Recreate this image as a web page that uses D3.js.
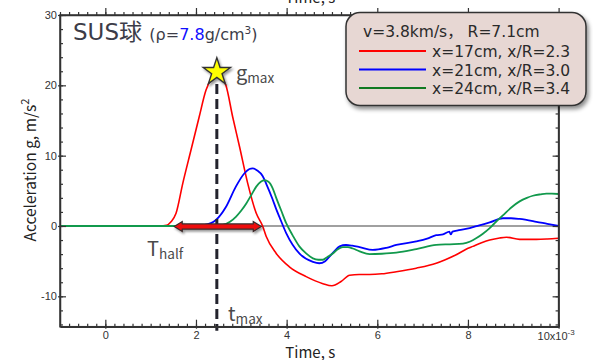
<!DOCTYPE html>
<html><head><meta charset="utf-8">
<script src="https://cdn.jsdelivr.net/npm/d3@7"></script>
<style>
html,body{margin:0;padding:0;background:#fff;}
svg{display:block;}
</style></head>
<body>
<svg id="c" width="593" height="360"></svg>
<script>
// ---- data (time in ms i.e. x10^-3 s, acceleration in g) ----
const redT = [-1,1.2,1.35,1.45,1.56,1.71,1.89,2.07,2.22,2.35,2.45,2.55,2.66,2.81,2.96,3.14,3.33,3.47,3.55,3.77,4.06,4.43,4.80,5.0,5.2,5.39,5.6,5.83,6.1,6.42,6.86,7.3,7.5,7.74,7.96,8.11,8.3,8.48,8.7,8.85,9.14,9.51,9.75,10];
const redG = [0,0,0.1,0.6,1.8,6.1,10.8,15.5,19.3,21.0,21.5,21.2,20.0,15.5,11.3,6.1,1.8,0,-1.5,-3.9,-5.8,-7.2,-8.2,-8.5,-7.9,-7.0,-6.9,-6.9,-6.8,-6.5,-6.0,-5.3,-4.8,-4.1,-3.3,-2.9,-2.4,-2.0,-1.7,-1.6,-1.9,-1.9,-1.85,-1.75];
const blueT = [-1,1.8,2.0,2.19,2.44,2.66,2.88,3.07,3.18,3.25,3.35,3.47,3.55,3.69,3.77,3.84,3.99,4.28,4.58,4.72,4.85,4.94,5.05,5.17,5.31,5.45,5.61,5.9,6.2,6.42,6.86,7.1,7.3,7.45,7.59,7.62,7.66,7.8,8.04,8.25,8.48,8.77,8.95,9.14,9.51,9.75,10];
const blueG = [0,0,0.05,0.15,0.85,2.7,5.6,7.5,8.1,8.2,7.9,7.1,6.0,3.8,2.4,1.3,-1.0,-3.9,-5.1,-5.3,-5.0,-4.4,-3.6,-2.9,-2.7,-2.8,-3.0,-3.4,-3.1,-2.7,-2.2,-1.8,-1.3,-1.2,-0.8,-1.2,-0.8,-0.6,-0.3,0.1,0.5,1.1,1.1,1.0,0.6,0.3,0.0];
const greenT = [-1,2.3,2.45,2.59,2.75,2.88,3.0,3.11,3.22,3.33,3.43,3.51,3.6,3.69,3.77,3.88,3.99,4.13,4.28,4.43,4.58,4.7,4.80,4.9,5.02,5.13,5.24,5.35,5.46,5.61,5.83,6.1,6.42,6.86,7.3,7.6,7.89,8.05,8.18,8.33,8.48,8.62,8.77,8.95,9.14,9.3,9.43,9.6,9.73,9.85,10];
const greenG = [0,0,0.05,0.14,0.6,1.3,2.2,3.2,4.4,5.6,6.3,6.5,6.3,5.4,4.0,2.2,0.4,-1.3,-2.9,-3.9,-4.6,-4.8,-4.8,-4.4,-3.9,-3.3,-3.0,-3.0,-3.2,-3.6,-4.0,-3.95,-3.8,-3.3,-2.7,-2.6,-2.5,-2.2,-1.75,-1.1,-0.3,0.6,1.5,2.6,3.5,4.0,4.3,4.5,4.6,4.6,4.55];
const seriesNames = ["x=17cm, x/R=2.3","x=21cm, x/R=3.0","x=24cm, x/R=3.4"];
const legendTitle = "v=3.8km/s\uFF0C R=7.1cm";
const xMajorTicks = [0,2,4,6,8,10];
const yMajorTicks = [-10,0,10,20,30];
const tMax = 2.46, gMax = 21.9;
const tHalf = [1.52, 3.44];

// ---- layout ----
const svg = d3.select("#c");
const L = 60, R = 558.6, T = 15, B = 326.7;
const x = d3.scaleLinear().domain([-1,10]).range([L,R]);
const y = d3.scaleLinear().domain([-14.32,30]).range([B,T]);
const axisCol = "#333";

const defs = svg.append("defs");
const f = defs.append("filter").attr("id","sh").attr("x","-20%").attr("y","-20%").attr("width","140%").attr("height","160%");
f.append("feDropShadow").attr("dx",2).attr("dy",3).attr("stdDeviation",2).attr("flood-color","#000").attr("flood-opacity",0.45);
const f2 = defs.append("filter").attr("id","sh2").attr("x","-20%").attr("y","-50%").attr("width","140%").attr("height","200%");
f2.append("feDropShadow").attr("dx",1.5).attr("dy",2).attr("stdDeviation",1.2).attr("flood-color","#000").attr("flood-opacity",0.4);

// zero line
svg.append("line").attr("x1",L).attr("x2",R).attr("y1",y(0)).attr("y2",y(0))
  .attr("stroke","#808080").attr("stroke-width",1.6);

// curves
const line = d3.line().x(d=>x(d[0])).y(d=>y(d[1])).curve(d3.curveMonotoneX);
const mk = (ts,gs)=>ts.map((t,i)=>[t,gs[i]]);
svg.append("path").datum(mk(redT,redG)).attr("d",line).attr("fill","none").attr("stroke","#ff0000").attr("stroke-width",1.6);
svg.append("path").datum(mk(blueT,blueG)).attr("d",line).attr("fill","none").attr("stroke","#0000ff").attr("stroke-width",1.8);
svg.append("path").datum(mk(greenT,greenG)).attr("d",line).attr("fill","none").attr("stroke","#11994c").attr("stroke-width",1.8);

// dashed t_max line
svg.append("line").attr("x1",x(tMax)).attr("x2",x(tMax)).attr("y1",y(gMax)+12).attr("y2",B+4)
  .attr("stroke","#23232d").attr("stroke-width",3).attr("stroke-dasharray","10,5");

// T_half double arrow
(function(){
  const x0 = x(tHalf[0]), x1 = x(tHalf[1]), yc = y(0)+0.5;
  const hl = 8, hh = 5, sh = 2.6;
  const p = [[x0,yc],[x0+hl,yc-hh],[x0+hl,yc-sh],[x1-hl,yc-sh],[x1-hl,yc-hh],[x1,yc],[x1-hl,yc+hh],[x1-hl,yc+sh],[x0+hl,yc+sh],[x0+hl,yc+hh]];
  svg.append("path").attr("d","M"+p.map(d=>d.join(",")).join("L")+"Z")
    .attr("fill","#ee1111").attr("stroke","#3a2a2a").attr("stroke-width",1.2).attr("filter","url(#sh2)");
})();

// star
svg.append("path").attr("d",d3.symbol(d3.symbolStar,230)())
  .attr("transform",`translate(${x(tMax)},${y(gMax)})`)
  .attr("fill","#ffff00").attr("stroke","#333").attr("stroke-width",1.4).attr("filter","url(#sh2)");

// axes
function minorRange(a,b,s){const r=[];for(let v=a;v<=b+1e-9;v+=s)r.push(+v.toFixed(4));return r;}
const xMinor = minorRange(-1,10,0.2);
const yMinor = minorRange(-14,30,2);
const tickFont = "'Liberation Sans', Arial, sans-serif";

// bottom
const gB = svg.append("g").attr("transform",`translate(0,${B})`);
gB.call(d3.axisBottom(x).tickValues(xMinor).tickSize(-3).tickFormat(""));
gB.call(g=>g.select(".domain").remove());
const gB2 = svg.append("g").attr("transform",`translate(0,${B})`);
gB2.call(d3.axisBottom(x).tickValues(xMajorTicks).tickSizeInner(-7).tickSizeOuter(0).tickPadding(5).tickFormat(d=>d===10?"":String(d)));
gB2.selectAll(".tick line").attr("y2",-7).attr("y1",2);
// top
const gT = svg.append("g").attr("transform",`translate(0,${T})`);
gT.call(d3.axisTop(x).tickValues(xMinor).tickSize(3).tickFormat(""));
gT.call(g=>g.select(".domain").remove());
const gT2 = svg.append("g").attr("transform",`translate(0,${T})`);
gT2.call(d3.axisTop(x).tickValues(xMajorTicks).tickSizeInner(7).tickSizeOuter(0).tickFormat(""));
// left
const gL = svg.append("g").attr("transform",`translate(${L},0)`);
gL.call(d3.axisLeft(y).tickValues(yMinor).tickSize(-3).tickFormat(""));
gL.call(g=>g.select(".domain").remove());
const gL2 = svg.append("g").attr("transform",`translate(${L},0)`);
gL2.call(d3.axisLeft(y).tickValues(yMajorTicks).tickSizeInner(-6).tickSizeOuter(0).tickPadding(4).tickFormat(d=>String(d)));
gL2.selectAll(".tick line").attr("x2",6).attr("x1",-2);
gL2.selectAll(".tick text").attr("x",-3);
// right
const gR = svg.append("g").attr("transform",`translate(${R},0)`);
gR.call(d3.axisRight(y).tickValues(yMinor).tickSize(-3).tickFormat(""));
gR.call(g=>g.select(".domain").remove());
const gR2 = svg.append("g").attr("transform",`translate(${R},0)`);
gR2.call(d3.axisRight(y).tickValues(yMajorTicks).tickSizeInner(-6).tickSizeOuter(0).tickFormat(""));

svg.selectAll(".tick line").attr("stroke",axisCol).attr("stroke-width",1.2);
svg.selectAll(".domain").attr("stroke",axisCol).attr("stroke-width",1.5);
svg.selectAll(".tick text").attr("fill","#333").style("font-family",tickFont).style("font-size","11px");

// 10x10^-3 label
const lab = svg.append("text").attr("x",x(10)-21).attr("y",B+13.5).attr("fill","#333")
  .style("font-family",tickFont).style("font-size","11px");
lab.append("tspan").text("10x10");
lab.append("tspan").attr("dy",-5).style("font-size","8px").text("-3");

// frame
svg.append("rect").attr("x",L).attr("y",T).attr("width",R-L).attr("height",B-T)
  .attr("fill","none").attr("stroke",axisCol).attr("stroke-width",1.5);

// axis titles
const jp = "'Noto Sans CJK JP','Noto Sans',sans-serif";
const wide = "'DejaVu Sans','Noto Sans CJK JP',sans-serif";
svg.append("text").attr("x",(L+R)/2+1).attr("y",357.5).attr("text-anchor","middle")
  .attr("fill","#222").style("font-family",jp).style("font-size","15px").text("Time, s");
svg.append("text").attr("x",(L+R)/2+1).attr("y",3).attr("text-anchor","middle")
  .attr("fill","#222").style("font-family",jp).style("font-size","15px").text("Time, s");
const yl = svg.append("text").attr("transform","translate(36,170) rotate(-90)").attr("text-anchor","middle")
  .attr("fill","#222").style("font-family",jp).style("font-size","15.5px");
yl.append("tspan").text("Acceleration g, m/s");
yl.append("tspan").attr("dy",-7).style("font-size","11px").text("2");

// title
const tt = svg.append("text").attr("x",73).attr("y",40).attr("fill","#3c3c48").style("font-family",wide);
tt.append("tspan").style("font-size","23px").text("SUS球 ");
tt.append("tspan").style("font-size","16px").text("(ρ=");
tt.append("tspan").style("font-size","16px").attr("fill","#1010ff").text("7.8");
tt.append("tspan").style("font-size","16px").text("g/cm");
tt.append("tspan").style("font-size","10.5px").attr("dy",-6).text("3");
tt.append("tspan").style("font-size","16px").attr("dy",6).text(")");

// annotations
function subLabel(px,py,main,sub,size){
  const t = svg.append("text").attr("x",px).attr("y",py).attr("fill","#4a4a4a").style("font-family",jp);
  t.append("tspan").style("font-size",size+"px").text(main);
  t.append("tspan").style("font-size",(size*0.68)+"px").attr("dy",3).text(sub);
}
subLabel(236,80,"g","max",20);
subLabel(228,321,"t","max",20);
subLabel(147,256,"T","half",20);

// legend
const lg = svg.append("g");
lg.append("rect").attr("x",346).attr("y",12.5).attr("width",240).attr("height",93).attr("rx",14)
  .attr("fill","#e7d7d3").attr("stroke","#333").attr("stroke-width",1.5).attr("filter","url(#sh)");
lg.append("text").attr("x",363).attr("y",37).attr("fill","#2a2a2a").style("font-family",wide).style("font-size","15.5px").text(legendTitle);
const lcols = ["#ff0000","#0000ff","#117a22"];
seriesNames.forEach((n,i)=>{
  const yy = 51 + i*18.5;
  lg.append("line").attr("x1",359).attr("x2",426).attr("y1",yy).attr("y2",yy).attr("stroke",lcols[i]).attr("stroke-width",2.2);
  lg.append("text").attr("x",432).attr("y",yy+6).attr("fill","#2a2a2a").style("font-family",wide).style("font-size","15.5px").text(n);
});
</script>
</body></html>
